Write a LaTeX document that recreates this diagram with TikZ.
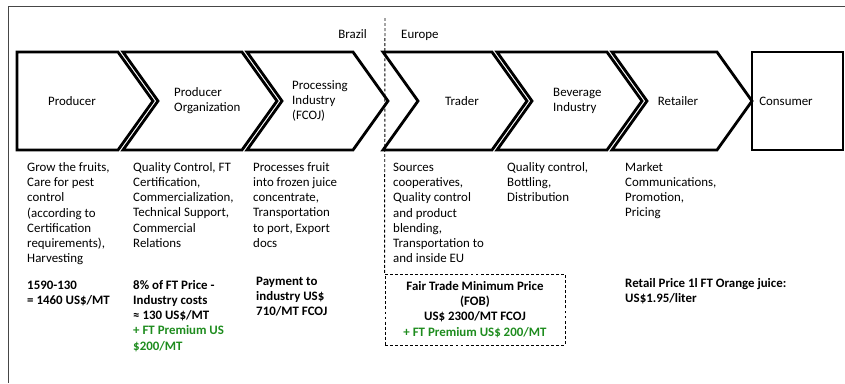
\documentclass[tikz,border=0pt]{standalone}
\usepackage{fontspec}
\setmainfont{Carlito}
\definecolor{ftgreen}{RGB}{30,140,30}
\definecolor{framegray}{RGB}{70,70,70}

\begin{document}
\begin{tikzpicture}[x=0.03cm, y=-0.03cm,
  stage/.style={line width=2.4pt, line join=miter},
  main/.style={font=\fontsize{11}{13}\selectfont, inner sep=0pt},
  desc/.style={main, align=left, anchor=base west},
  price/.style={desc, font=\fontsize{11}{13}\selectfont\bfseries},
  fobbox/.style={main, draw, line width=0.8pt, dash pattern=on 2.5pt off 1.8pt, align=center,
    font=\fontsize{11}{13}\selectfont\bfseries, minimum width=5.4cm, minimum height=2.13cm}]
\useasboundingbox (0,0) rectangle (845,383);
\draw[framegray, line width=0.8pt] (845,6) -- (8,6) -- (8,383);

% value chain
\draw[stage] (17,52) -- (118,52) -- (153,101) -- (118,150) -- (17,150) -- cycle;
\draw[stage] (123,52) -- (242,52) -- (277,101) -- (242,150) -- (123,150) -- (158,101) -- cycle;
\draw[stage] (247,52) -- (353,52) -- (388,101) -- (353,150) -- (247,150) -- (282,101) -- cycle;
\draw[stage] (383,52) -- (492,52) -- (527,101) -- (492,150) -- (383,150) -- (418,101) -- cycle;
\draw[stage] (497,52) -- (607,52) -- (642,101) -- (607,150) -- (497,150) -- (532,101) -- cycle;
\draw[stage] (612,52) -- (717,52) -- (752,101) -- (717,150) -- (612,150) -- (647,101) -- cycle;
\draw[stage] (752,52) rectangle (843,150);

\node[main] (producer) at (72,101) {Producer};
\node[main, align=left, anchor=west] (prodorg) at (174,101) {Producer\\Organization};
\node[main, align=left, anchor=west] (procind) at (292,101) {Processing\\Industry\\(FCOJ)};
\node[main] (trader) at (462,101) {Trader};
\node[main, align=left, anchor=west] (beverage) at (553,101) {Beverage\\Industry};
\node[main] (retailer) at (678,101) {Retailer};
\node[main] (consumer) at (786,101) {Consumer};

% Brazil / Europe
\node[main, anchor=base east] (brazil) at (367,38) {Brazil};
\node[main, anchor=base west] (europe) at (401,38) {Europe};

% activities (base = last line)
\node[desc] (act1) at (27,262.7) {Grow the fruits,\\Care for pest\\control\\(according to\\Certification\\requirements),\\Harvesting};
\node[desc] (act2) at (133,247.4) {Quality Control, FT\\Certification,\\Commercialization,\\Technical Support,\\Commercial\\Relations};
\node[desc] (act3) at (253,247.4) {Processes fruit\\into frozen juice\\concentrate,\\Transportation\\to port, Export\\docs};
\node[desc] (act4) at (393,262.7) {Sources\\cooperatives,\\Quality control\\and product\\blending,\\Transportation to\\and inside EU};
\node[desc] (act5) at (507,201.6) {Quality control,\\Bottling,\\Distribution};
\node[desc] (act6) at (625,216.9) {Market\\Communications,\\Promotion,\\Pricing};

% prices
\node[price] (price1) at (27,304.3) {1590-130\\= 1460 US\$/MT};
\node[price] (price2) at (133,350.2) {8\% of FT Price - \\Industry costs\\≈ 130 US\$/MT\\\textcolor{ftgreen}{+ FT Premium US}\\\textcolor{ftgreen}{\$200/MT}};
\node[price] (price3) at (256,315.6) {Payment to\\industry US\$\\710/MT FCOJ};
\node[fobbox] (fairtrade) at (475,309.5) {Fair Trade Minimum Price\\(FOB)\\US\$ 2300/MT FCOJ\\\textcolor{ftgreen}{+ FT Premium US\$ 200/MT}};
\node[price] (price6) at (625,302.3) {Retail Price 1l FT Orange juice:\\US\$1.95/liter};

\coordinate (divtop) at (385,18);
\draw[line width=0.8pt, dash pattern=on 2.5pt off 1.8pt] (divtop) -- (fairtrade.north west);
\end{tikzpicture}
\end{document}
